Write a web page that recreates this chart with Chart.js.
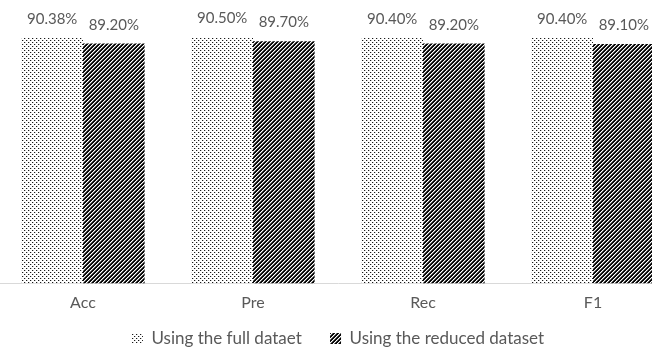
<!DOCTYPE html>
<html>
<head>
<meta charset="utf-8">
<script src="https://cdn.jsdelivr.net/npm/chart.js@4/dist/chart.umd.min.js"></script>
<style>
  html, body { margin: 0; padding: 0; background: #fff; overflow: hidden; }
  #wrap { position: absolute; left: -2px; top: 0; width: 680px; height: 357px; }
</style>
</head>
<body>
<div id="wrap"><canvas id="chart"></canvas></div>
<script>
// metrics and scores
const categories = ["Acc", "Pre", "Rec", "F1"];
const fullData = [90.38, 90.50, 90.40, 90.40];
const reducedData = [89.20, 89.70, 89.20, 89.10];
const seriesNames = ["Using the full dataet", "Using the reduced dataset"];

const textGrey = "#595959";
const fontFamily = "Lato, 'Open Sans', sans-serif";

// dotted fill for the full dataset
function dotPattern() {
  const c = document.createElement("canvas");
  c.width = 4; c.height = 4;
  const g = c.getContext("2d");
  g.fillStyle = "#fff";
  g.fillRect(0, 0, 4, 4);
  g.fillStyle = "#1a1a1a";
  g.fillRect(0, 0, 1, 1);
  g.fillRect(2, 2, 1, 1);
  g.fillStyle = "#c8c8c8";
  g.fillRect(1, 0, 1, 1);
  g.fillRect(3, 2, 1, 1);
  return g.createPattern(c, "repeat");
}

// dense "/" hatch for the reduced dataset
function hatchPattern() {
  const c = document.createElement("canvas");
  c.width = 4; c.height = 4;
  const g = c.getContext("2d");
  const shades = ["#000", "#111", "#fff", "#777"];
  for (let x = 0; x < 4; x++) {
    for (let y = 0; y < 4; y++) {
      g.fillStyle = shades[(x + y) % 4];
      g.fillRect(x, y, 1, 1);
    }
  }
  return g.createPattern(c, "repeat");
}

// value labels above each bar
const barLabels = {
  id: "barLabels",
  afterDatasetsDraw(chart) {
    const ctx = chart.ctx;
    ctx.save();
    ctx.font = "15px " + fontFamily;
    ctx.fillStyle = textGrey;
    ctx.textAlign = "center";
    ctx.textBaseline = "alphabetic";
    chart.data.datasets.forEach((ds, i) => {
      chart.getDatasetMeta(i).data.forEach((bar, j) => {
        ctx.fillText(ds.data[j].toFixed(2) + "%", bar.x, bar.y - 14);
      });
    });
    ctx.restore();
  }
};

new Chart(document.getElementById("chart"), {
  type: "bar",
  data: {
    labels: categories,
    datasets: [
      { label: seriesNames[0], data: fullData, backgroundColor: dotPattern(), borderWidth: 0 },
      { label: seriesNames[1], data: reducedData, backgroundColor: hatchPattern(), borderWidth: 0 }
    ]
  },
  options: {
    responsive: true,
    maintainAspectRatio: false,
    animation: false,
    layout: { padding: 0 },
    datasets: {
      bar: { barPercentage: 1, categoryPercentage: 0.725 }
    },
    scales: {
      x: {
        grid: { display: false },
        border: { display: true, color: "#d9d9d9", width: 1 },
        ticks: { color: textGrey, font: { family: fontFamily, size: 16 }, padding: 2 }
      },
      y: {
        display: false,
        min: 38,
        max: 98.5
      }
    },
    plugins: {
      legend: {
        position: "bottom",
        labels: {
          color: textGrey,
          font: { family: fontFamily, size: 17 },
          boxWidth: 11,
          boxHeight: 11,
          padding: 15.5,
          // wider gap between the two entries, as in the source figure
          generateLabels(chart) {
            const items = Chart.defaults.plugins.legend.labels.generateLabels(chart);
            items[0].text = items[0].text + "\u2003";
            return items;
          }
        }
      },
      tooltip: { enabled: false }
    }
  },
  plugins: [barLabels]
});
</script>
</body>
</html>
